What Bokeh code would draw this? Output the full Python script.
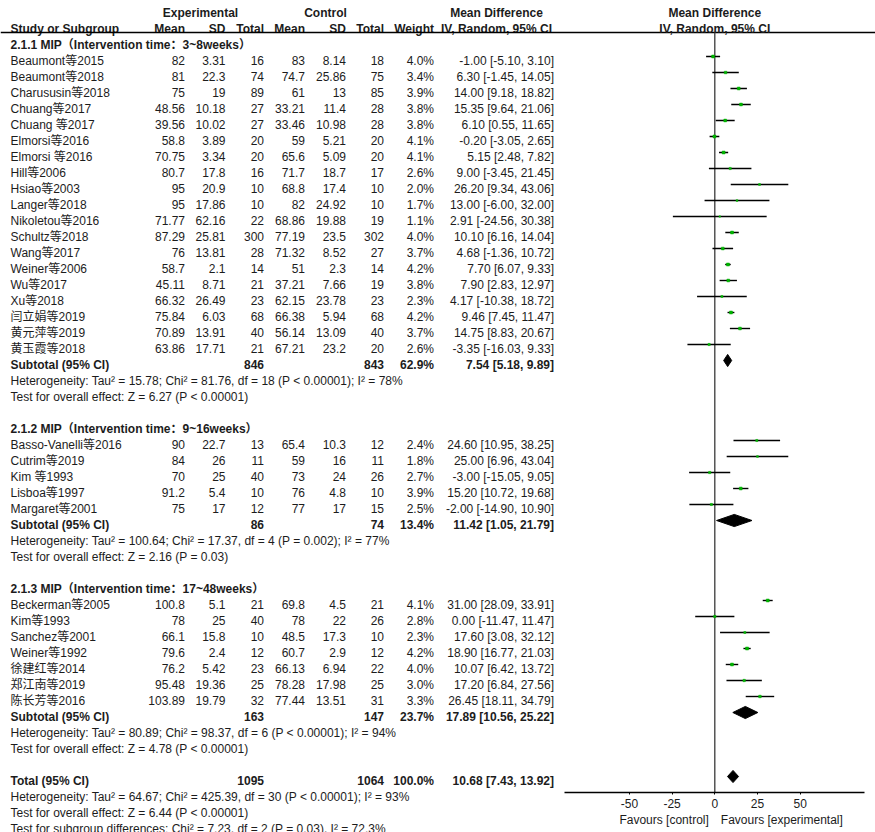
from bokeh.plotting import figure
from bokeh.models import Range1d, ColumnDataSource, LinearAxis, FixedTicker
from bokeh.embed import file_html
from bokeh.resources import INLINE
from bokeh.core.properties import value, field

# ---------------- data ----------------
study = ["Beaumont等2015", "Beaumont等2018", "Charususin等2018", "Chuang等2017", "Chuang 等2017",
         "Elmorsi等2016", "Elmorsi 等2016", "Hill等2006", "Hsiao等2003", "Langer等2018",
         "Nikoletou等2016", "Schultz等2018", "Wang等2017", "Weiner等2006", "Wu等2017",
         "Xu等2018", "闫立娟等2019", "黄元萍等2019", "黄玉霞等2018",
         "Basso-Vanelli等2016", "Cutrim等2019", "Kim 等1993", "Lisboa等1997", "Margaret等2001",
         "Beckerman等2005", "Kim等1993", "Sanchez等2001", "Weiner等1992", "徐建红等2014",
         "郑江南等2019", "陈长芳等2016"]
group = [1, 1, 1, 1, 1, 1, 1, 1, 1, 1, 1, 1, 1, 1, 1, 1, 1, 1, 1,
         2, 2, 2, 2, 2,
         3, 3, 3, 3, 3, 3, 3]
exp_mean = [82, 81, 75, 48.56, 39.56, 58.8, 70.75, 80.7, 95, 95, 71.77, 87.29, 76, 58.7, 45.11,
            66.32, 75.84, 70.89, 63.86,
            90, 84, 70, 91.2, 75,
            100.8, 78, 66.1, 79.6, 76.2, 95.48, 103.89]
exp_sd = [3.31, 22.3, 19, 10.18, 10.02, 3.89, 3.34, 17.8, 20.9, 17.86, 62.16, 25.81, 13.81, 2.1, 8.71,
          26.49, 6.03, 13.91, 17.71,
          22.7, 26, 25, 5.4, 17,
          5.1, 25, 15.8, 2.4, 5.42, 19.36, 19.79]
exp_n = [16, 74, 89, 27, 27, 20, 20, 16, 10, 10, 22, 300, 28, 14, 21, 23, 68, 40, 21,
         13, 11, 40, 10, 12,
         21, 40, 10, 12, 23, 25, 32]
ctl_mean = [83, 74.7, 61, 33.21, 33.46, 59, 65.6, 71.7, 68.8, 82, 68.86, 77.19, 71.32, 51, 37.21,
            62.15, 66.38, 56.14, 67.21,
            65.4, 59, 73, 76, 77,
            69.8, 78, 48.5, 60.7, 66.13, 78.28, 77.44]
ctl_sd = [8.14, 25.86, 13, 11.4, 10.98, 5.21, 5.09, 18.7, 17.4, 24.92, 19.88, 23.5, 8.52, 2.3, 7.66,
          23.78, 5.94, 13.09, 23.2,
          10.3, 16, 24, 4.8, 17,
          4.5, 22, 17.3, 2.9, 6.94, 17.98, 13.51]
ctl_n = [18, 75, 85, 28, 28, 20, 20, 17, 10, 10, 19, 302, 27, 14, 19, 23, 68, 40, 20,
         12, 11, 26, 10, 15,
         21, 26, 10, 12, 22, 25, 31]
weight = [4.0, 3.4, 3.9, 3.8, 3.8, 4.1, 4.1, 2.6, 2.0, 1.7, 1.1, 4.0, 3.7, 4.2, 3.8, 2.3, 4.2, 3.7, 2.6,
          2.4, 1.8, 2.7, 3.9, 2.5,
          4.1, 2.8, 2.3, 4.2, 4.0, 3.0, 3.3]
md = [-1.00, 6.30, 14.00, 15.35, 6.10, -0.20, 5.15, 9.00, 26.20, 13.00, 2.91, 10.10, 4.68, 7.70, 7.90,
      4.17, 9.46, 14.75, -3.35,
      24.60, 25.00, -3.00, 15.20, -2.00,
      31.00, 0.00, 17.60, 18.90, 10.07, 17.20, 26.45]
ci_lo = [-5.10, -1.45, 9.18, 9.64, 0.55, -3.05, 2.48, -3.45, 9.34, -6.00, -24.56, 6.16, -1.36, 6.07, 2.83,
         -10.38, 7.45, 8.83, -16.03,
         10.95, 6.96, -15.05, 10.72, -14.90,
         28.09, -11.47, 3.08, 16.77, 6.42, 6.84, 18.11]
ci_hi = [3.10, 14.05, 18.82, 21.06, 11.65, 2.65, 7.82, 21.45, 43.06, 32.00, 30.38, 14.04, 10.72, 9.33, 12.97,
         18.72, 11.47, 20.67, 9.33,
         38.25, 43.04, 9.05, 19.68, 10.90,
         33.91, 11.47, 32.12, 21.03, 13.72, 27.56, 34.79]

group_title = ["2.1.1 MIP（Intervention time：3~8weeks）",
               "2.1.2 MIP（Intervention time：9~16weeks）",
               "2.1.3 MIP（Intervention time：17~48weeks）"]
sub_exp_n = [846, 86, 163]
sub_ctl_n = [843, 74, 147]
sub_weight = [62.9, 13.4, 23.7]
sub_md = [7.54, 11.42, 17.89]
sub_lo = [5.18, 1.05, 10.56]
sub_hi = [9.89, 21.79, 25.22]
sub_het = ["Heterogeneity: Tau² = 15.78; Chi² = 81.76, df = 18 (P < 0.00001); I² = 78%",
           "Heterogeneity: Tau² = 100.64; Chi² = 17.37, df = 4 (P = 0.002); I² = 77%",
           "Heterogeneity: Tau² = 80.89; Chi² = 98.37, df = 6 (P < 0.00001); I² = 94%"]
sub_test = ["Test for overall effect: Z = 6.27 (P < 0.00001)",
            "Test for overall effect: Z = 2.16 (P = 0.03)",
            "Test for overall effect: Z = 4.78 (P < 0.00001)"]
total_exp_n = 1095
total_ctl_n = 1064
total_weight = 100.0
total_md = 10.68
total_lo = 7.43
total_hi = 13.92
total_notes = ["Heterogeneity: Tau² = 64.67; Chi² = 425.39, df = 30 (P < 0.00001); I² = 93%",
               "Test for overall effect: Z = 6.44 (P < 0.00001)",
               "Test for subgroup differences: Chi² = 7.23, df = 2 (P = 0.03), I² = 72.3%"]
axis_ticks = [-50, -25, 0, 25, 50]
axis_tick_labels = ["-50", "-25", "0", "25", "50"]
favours = ["Favours [control]", "Favours [experimental]"]

# ---------------- layout helpers ----------------
FONT = "Liberation Sans, Noto Sans CJK SC, sans-serif"
TXT = "#1c1c1c"
X_NAME, X_EM, X_ESD, X_EN, X_CM, X_CSD, X_CN, X_W, X_CI = 10, 184.5, 225, 263.5, 304.5, 345.5, 383.5, 433.5, 553.5
AXIS_ROW = 48.75      # row coordinate of the forest axis
ZERO_PX = 714.3       # pixel of MD = 0
PX_PER_UNIT = 1.707   # pixels per MD unit
W_PX, H_PX = 875, 832
ROWS = (-0.75, 51.25)

T = dict(x=[], y=[], text=[], align=[], style=[])


def put(x, k, s, align="right", style="normal"):
    T["x"].append(x)
    T["y"].append(k)
    T["text"].append(s)
    T["align"].append(align)
    T["style"].append(style)


def g(v):
    return f"{v:g}"


def ci(m, lo, hi):
    return f"{m:.2f} [{lo:.2f}, {hi:.2f}]"


# headers
put(200, 0, "Experimental", "center", "bold")
put(325, 0, "Control", "center", "bold")
put(496, 0, "Mean Difference", "center", "bold")
put(X_NAME, 1, "Study or Subgroup", "left", "bold")
put(X_EM, 1, "Mean", "right", "bold")
put(X_ESD, 1, "SD", "right", "bold")
put(X_EN, 1, "Total", "right", "bold")
put(X_CM, 1, "Mean", "right", "bold")
put(X_CSD, 1, "SD", "right", "bold")
put(X_CN, 1, "Total", "right", "bold")
put(X_W, 1, "Weight", "right", "bold")
put(496, 1, "IV, Random, 95% CI", "center", "bold")

st_y, st_x0, st_x1, st_sz, st_m = [], [], [], [], []
dia_xs, dia_ys = [], []
H = 0.38
OFF = 0.25

k = 2
for gi in range(3):
    put(X_NAME, k, group_title[gi], "left", "bold")
    idx = [i for i in range(len(study)) if group[i] == gi + 1]
    for i in idx:
        k += 1
        put(X_NAME, k, study[i], "left")
        put(X_EM, k, g(exp_mean[i]))
        put(X_ESD, k, g(exp_sd[i]))
        put(X_EN, k, g(exp_n[i]))
        put(X_CM, k, g(ctl_mean[i]))
        put(X_CSD, k, g(ctl_sd[i]))
        put(X_CN, k, g(ctl_n[i]))
        put(X_W, k, f"{weight[i]:.1f}%")
        put(X_CI, k, ci(md[i], ci_lo[i], ci_hi[i]))
        st_y.append(k - OFF)
        st_x0.append(ci_lo[i])
        st_x1.append(ci_hi[i])
        st_m.append(md[i])
        st_sz.append(0.9 + 0.5 * weight[i])
    k += 1
    put(X_NAME, k, "Subtotal (95% CI)", "left", "bold")
    put(X_EN, k, str(sub_exp_n[gi]), "right", "bold")
    put(X_CN, k, str(sub_ctl_n[gi]), "right", "bold")
    put(X_W, k, f"{sub_weight[gi]:.1f}%", "right", "bold")
    put(X_CI, k, ci(sub_md[gi], sub_lo[gi], sub_hi[gi]), "right", "bold")
    yc = k - OFF
    dia_xs.append([sub_lo[gi], sub_md[gi], sub_hi[gi], sub_md[gi]])
    dia_ys.append([yc, yc - H, yc, yc + H])
    put(X_NAME, k + 1, sub_het[gi], "left")
    put(X_NAME, k + 2, sub_test[gi], "left")
    k += 4

put(X_NAME, k, "Total (95% CI)", "left", "bold")
put(X_EN, k, str(total_exp_n), "right", "bold")
put(X_CN, k, str(total_ctl_n), "right", "bold")
put(X_W, k, f"{total_weight:.1f}%", "right", "bold")
put(X_CI, k, ci(total_md, total_lo, total_hi), "right", "bold")
yc = k - OFF
dia_xs.append([total_lo, total_md, total_hi, total_md])
dia_ys.append([yc, yc - H, yc, yc + H])
for j, s in enumerate(total_notes):
    put(X_NAME, k + 1 + j, s, "left")

# ---------------- figure ----------------
md_range = Range1d((0 - ZERO_PX) / PX_PER_UNIT, (W_PX - ZERO_PX) / PX_PER_UNIT)
p = figure(width=W_PX, height=H_PX, x_range=Range1d(0, W_PX), y_range=Range1d(ROWS[1], ROWS[0]),
           output_backend="svg", toolbar_location=None, min_border=0,
           x_axis_location=None, y_axis_location=None)
p.extra_x_ranges = {"md": md_range}
p.grid.visible = False
p.outline_line_color = None

# table text
p.text(x="x", y="y", text="text", source=ColumnDataSource(T),
       text_align=field("align"), text_font_style=field("style"),
       text_baseline="middle", text_font=value(FONT), text_font_size="12px", text_color=TXT)
# header rule
p.segment(x0=[0], y0=[1.25], x1=[W_PX], y1=[1.25], line_color="black", line_width=1.3)

# forest header
p.text(x=[0, 0], y=[0, 1], text=["Mean Difference", "IV, Random, 95% CI"], x_range_name="md",
       text_align="center", text_baseline="middle", text_font=value(FONT),
       text_font_size="12px", text_font_style="bold", text_color=TXT)
# zero line
p.segment(x0=[0], y0=[1.25], x1=[0], y1=[AXIS_ROW], x_range_name="md",
          line_color="#3a3a3a", line_width=1.3)

src = ColumnDataSource(dict(y=st_y, x0=st_x0, x1=st_x1, m=st_m, s=st_sz))
p.segment(x0="x0", y0="y", x1="x1", y1="y", source=src, x_range_name="md",
          line_color="black", line_width=1.4)
p.scatter(x="m", y="y", size="s", source=src, marker="square", x_range_name="md",
          fill_color="#00b300", line_color="#00b300", line_width=0.5)
p.patches(xs=dia_xs, ys=dia_ys, x_range_name="md", fill_color="black", line_color="black", line_width=1)

ax = LinearAxis(x_range_name="md", ticker=FixedTicker(ticks=axis_ticks), bounds=(-87.9, 87.9),
                fixed_location=AXIS_ROW)
ax.major_label_overrides = {t: s for t, s in zip(axis_ticks, axis_tick_labels)}
ax.axis_line_color = "black"
ax.axis_line_width = 1.3
ax.major_tick_out = 2
ax.major_tick_in = 0
ax.major_tick_line_color = "black"
ax.minor_tick_out = 0
ax.minor_tick_in = 0
ax.major_label_standoff = 4
ax.major_label_text_font = FONT
ax.major_label_text_font_size = "12px"
ax.major_label_text_color = TXT
p.add_layout(ax, "below")

# favours labels
p.text(x=[0], y=[50.44], text=[favours[0]], x_range_name="md", x_offset=-6,
       text_align="right", text_baseline="middle", text_font=value(FONT),
       text_font_size="12px", text_color=TXT)
p.text(x=[0], y=[50.44], text=[favours[1]], x_range_name="md", x_offset=6,
       text_align="left", text_baseline="middle", text_font=value(FONT),
       text_font_size="12px", text_color=TXT)

open("out.html", "w").write(file_html(p, INLINE))
